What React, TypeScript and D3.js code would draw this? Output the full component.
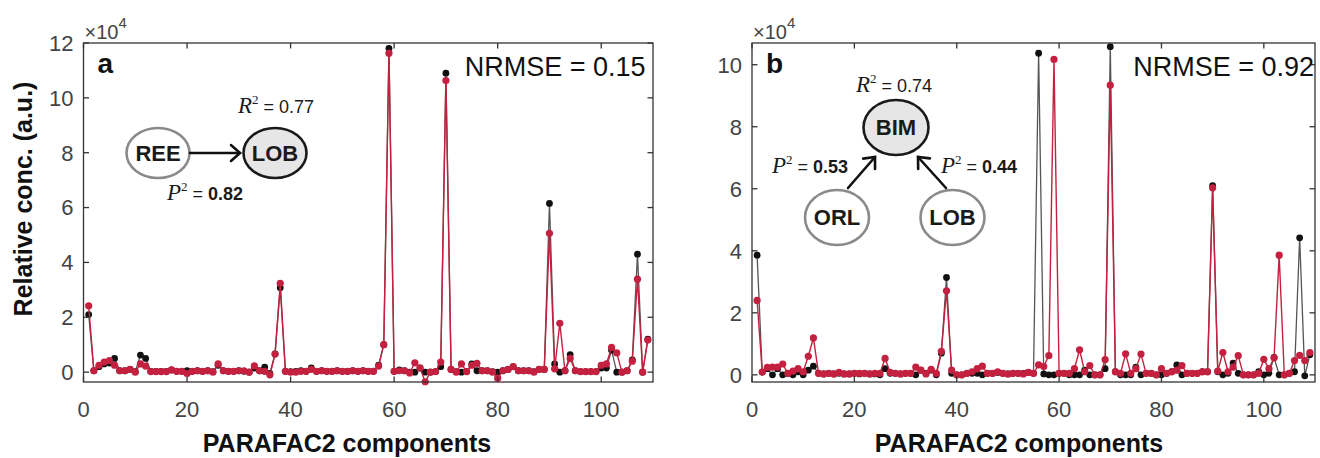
import React from "react";
import * as d3 from "d3";

// values in units of 1e4, components 1..109
const measuredA = [
  2.1, 0.05, 0.2, 0.3, 0.33, 0.5, 0.05, 0.05, 0.1, 0.02,
  0.62, 0.5, 0.03, 0.03, 0.03, 0.03, 0.08, 0.03, 0.03, 0.05,
  0.03, 0.05, 0.03, 0.05, 0.02, 0.25, 0.05, 0.03, 0.03, 0.05,
  0.03, 0.0, 0.15, 0.05, 0.18, -0.05, 0.66, 3.08, 0.03, 0.02,
  0.03, 0.05, 0.03, 0.15, 0.03, 0.05, 0.03, 0.03, 0.05, 0.03,
  0.03, 0.05, 0.03, 0.05, 0.03, 0.03, 0.25, 1.0, 11.8, 0.03,
  0.08, 0.05, 0.0, 0.0, 0.15, 0.0, 0.0, 0.02, 0.2, 10.9,
  0.1, 0.02, 0.0, 0.02, 0.3, 0.05, 0.05, 0.05, 0.02, 0.0,
  0.05, 0.1, 0.2, 0.05, 0.05, 0.05, 0.02, 0.1, 0.1, 6.15,
  0.3, 0.0, 0.05, 0.64, 0.05, 0.02, 0.02, 0.02, 0.02, 0.15,
  0.15, 0.8, 0.0, 0.0, 0.05, 0.45, 4.3, 0.0, 1.2,
];
const predictedA = [
  2.42, 0.05, 0.25, 0.37, 0.42, 0.25, 0.05, 0.05, 0.1, 0.0,
  0.3, 0.22, 0.02, 0.02, 0.02, 0.02, 0.08, 0.03, 0.03, -0.05,
  0.03, 0.05, 0.03, 0.05, 0.0, 0.3, 0.05, 0.03, 0.03, 0.05,
  0.05, 0.0, 0.23, 0.05, 0.03, -0.1, 0.66, 3.24, 0.03, 0.0,
  0.0, 0.03, 0.03, 0.1, 0.03, 0.05, 0.03, 0.03, 0.05, 0.03,
  0.03, 0.05, 0.03, 0.05, 0.03, 0.03, 0.22, 1.0, 11.63, 0.03,
  0.05, 0.05, -0.03, 0.34, 0.15, -0.35, 0.0, 0.02, 0.37, 10.63,
  0.1, 0.0, 0.3, 0.02, 0.25, 0.32, 0.05, 0.05, 0.0, -0.22,
  0.05, 0.1, 0.2, 0.05, 0.05, 0.05, 0.0, 0.1, 0.1, 5.06,
  0.12, 1.78, 0.05, 0.5, 0.05, 0.02, 0.02, 0.02, 0.02, 0.25,
  0.3, 0.9, 0.7, 0.0, 0.05, 0.4, 3.39, 0.0, 1.17,
];
const measuredB = [
  3.86, 0.09, 0.2, 0.0, 0.2, 0.0, 0.05, 0.0, 0.1, 0.0,
  0.15, 0.28, 0.05, 0.03, 0.05, 0.03, 0.05, 0.03, 0.03, 0.05,
  0.03, 0.05, 0.03, 0.03, 0.0, 0.2, 0.05, 0.05, 0.03, 0.05,
  0.05, 0.0, 0.15, 0.05, 0.15, 0.0, 0.7, 3.14, 0.05, 0.0,
  0.0, 0.05, 0.05, 0.05, 0.0, 0.05, 0.05, 0.08, 0.05, 0.03,
  0.05, 0.05, 0.05, 0.08, 0.05, 10.37, 0.03, 0.0, 0.0, 0.05,
  0.05, 0.0, 0.0, 0.0, 0.15, 0.0, 0.0, 0.0, 0.2, 10.58,
  0.1, 0.0, 0.0, 0.0, 0.25, 0.0, 0.05, 0.05, 0.0, 0.0,
  0.05, 0.1, 0.32, 0.0, 0.05, 0.05, 0.05, 0.1, 0.1, 6.1,
  0.1, 0.0, 0.05, 0.38, 0.05, 0.0, 0.0, 0.0, 0.1, 0.0,
  0.05, 0.56, 0.0, 0.0, 0.05, 0.1, 4.42, -0.03, 0.65,
];
const predictedB = [
  2.4, 0.09, 0.24, 0.25, 0.25, 0.35, 0.05, 0.12, 0.2, 0.1,
  0.6, 1.19, 0.05, 0.03, 0.05, 0.03, 0.08, 0.03, 0.03, 0.05,
  0.05, 0.05, 0.03, 0.05, 0.05, 0.53, 0.08, 0.05, 0.03, 0.05,
  0.05, 0.25, 0.15, 0.03, 0.18, 0.05, 0.76, 2.71, 0.15, 0.0,
  0.0, 0.05, 0.1, 0.2, 0.28, 0.05, 0.05, 0.1, 0.05, 0.03,
  0.05, 0.05, 0.03, 0.08, 0.05, 0.32, 0.27, 0.62, 10.17, 0.05,
  0.05, 0.05, 0.2, 0.81, 0.1, 0.3, 0.0, 0.0, 0.49, 9.34,
  0.1, 0.05, 0.68, 0.05, 0.2, 0.67, 0.05, 0.05, 0.0, 0.2,
  0.05, 0.1, 0.15, 0.3, 0.05, 0.05, 0.05, 0.1, 0.1, 6.03,
  0.12, 0.72, 0.1, 0.25, 0.62, 0.0, 0.0, 0.0, 0.05, 0.5,
  0.2, 0.55, 3.86, 0.0, 0.05, 0.46, 0.63, 0.46, 0.72,
];

const xTicks = [0, 20, 40, 60, 80, 100];
const yTicksA = [0, 2, 4, 6, 8, 10, 12];
const yTicksB = [0, 2, 4, 6, 8, 10];

const RED = "#c4203f";
const AXIS = "#333";
const TICKTXT = "#444";
const SANS = "'Liberation Sans', Arial, Helvetica, sans-serif";
const SERIF = "'Liberation Serif', 'Times New Roman', serif";

type PanelProps = {
  left: number;
  right: number;
  top: number;
  bottom: number;
  yDomain: [number, number];
  yTicks: number[];
  measured: number[];
  predicted: number[];
  letter: string;
  nrmse: string;
  xLabelX: number;
  children?: React.ReactNode;
};

const Panel = ({left, right, top, bottom, yDomain, yTicks, measured, predicted, letter, nrmse, xLabelX, children}: PanelProps) => {
  const x = d3.scaleLinear().domain([0, 110]).range([left, right]);
  const y = d3.scaleLinear().domain(yDomain).range([bottom, top]);
  const line = d3.line<number>().x((d, i) => x(i + 1)).y((d) => y(d));
  const tl = 5.5;

  return (
    <g>
      {/* series: measured (black) under predicted (red) */}
      <path d={line(measured) || ""} fill="none" stroke="#555" strokeWidth={1.3} />
      {measured.map((d, i) => (
        <circle key={"m" + i} cx={x(i + 1)} cy={y(d)} r={3.4} fill="#111" />
      ))}
      <path d={line(predicted) || ""} fill="none" stroke={RED} strokeWidth={1.4} />
      {predicted.map((d, i) => (
        <circle key={"p" + i} cx={x(i + 1)} cy={y(d)} r={3.6} fill={RED} />
      ))}

      {/* box with mirrored ticks */}
      <rect x={left} y={top} width={right - left} height={bottom - top} fill="none" stroke={AXIS} strokeWidth={1.3} />
      {xTicks.map((t) => (
        <g key={"xt" + t}>
          <line x1={x(t)} x2={x(t)} y1={bottom} y2={bottom - tl} stroke={AXIS} strokeWidth={1.3} />
          <line x1={x(t)} x2={x(t)} y1={top} y2={top + tl} stroke={AXIS} strokeWidth={1.3} />
          <text x={x(t)} y={bottom + 35} textAnchor="middle" fontFamily={SANS} fontSize={22} fill={TICKTXT}>{t}</text>
        </g>
      ))}
      {yTicks.map((t) => (
        <g key={"yt" + t}>
          <line x1={left} x2={left + tl} y1={y(t)} y2={y(t)} stroke={AXIS} strokeWidth={1.3} />
          <line x1={right} x2={right - tl} y1={y(t)} y2={y(t)} stroke={AXIS} strokeWidth={1.3} />
          <text x={left - 10} y={y(t)} dy="0.36em" textAnchor="end" fontFamily={SANS} fontSize={22} fill={TICKTXT}>{t}</text>
        </g>
      ))}
      <text x={left + 1} y={39} fontFamily={SANS} fontSize={20} fill={TICKTXT}>
        ×10<tspan dy={-11} fontSize={15}>4</tspan>
      </text>

      <text x={left + 14} y={73} fontFamily={SANS} fontWeight="bold" fontSize={28} fill="#111">{letter}</text>
      <text x={left + 562} y={76} textAnchor="end" fontFamily={SANS} fontSize={27} fill="#111">{nrmse}</text>
      <text x={xLabelX} y={452} textAnchor="middle" fontFamily={SANS} fontWeight="bold" fontSize={25} fill="#111">PARAFAC2 components</text>
      {children}
    </g>
  );
};

const Node = ({cx, cy, rx, ry, label, target}: {cx: number; cy: number; rx: number; ry: number; label: string; target?: boolean}) => (
  <g>
    <ellipse cx={cx} cy={cy} rx={rx} ry={ry} fill={target ? "#e6e6e6" : "#fff"} stroke={target ? "#1a1a1a" : "#8a8a8a"} strokeWidth={2.6} />
    <text x={cx} y={cy} dy="0.36em" textAnchor="middle" fontFamily={SANS} fontWeight="bold" fontSize={22} fill="#1a1a1a">{label}</text>
  </g>
);

const Arrow = ({x1, y1, x2, y2}: {x1: number; y1: number; x2: number; y2: number}) => {
  const a = Math.atan2(y2 - y1, x2 - x1);
  const h = 12;
  const w = 0.72;
  const p1 = [x2 - h * Math.cos(a - w), y2 - h * Math.sin(a - w)];
  const p2 = [x2 - h * Math.cos(a + w), y2 - h * Math.sin(a + w)];
  return (
    <g stroke="#111" strokeWidth={2.6} fill="none" strokeLinecap="round">
      <line x1={x1} y1={y1} x2={x2} y2={y2} />
      <path d={`M${p1[0]},${p1[1]} L${x2},${y2} L${p2[0]},${p2[1]}`} />
    </g>
  );
};

const Stat = ({x, y, sym, value, bold}: {x: number; y: number; sym: string; value: string; bold?: boolean}) => (
  <text x={x} y={y} fill="#1a1a1a">
    <tspan fontFamily={SERIF} fontStyle="italic" fontSize={23}>{sym}</tspan>
    <tspan fontFamily={SERIF} fontSize={13} dy={-9}>2</tspan>
    <tspan fontFamily={SANS} fontSize={18} dy={9}> = </tspan>
    <tspan fontFamily={SANS} fontSize={18} fontWeight={bold ? "bold" : "normal"}>{value}</tspan>
  </text>
);

const App = () => {
  return (
    <svg width={1320} height={458} style={{position: "absolute", left: 0, top: 0, background: "#fff"}}>
      <text
        transform="translate(32,199) rotate(-90)"
        textAnchor="middle"
        fontFamily={SANS}
        fontWeight="bold"
        fontSize={25}
        fill="#111"
      >
        Relative conc. (a.u.)
      </text>

      <Panel
        left={83.5}
        right={653}
        top={43}
        bottom={382}
        yDomain={[-0.36, 12]}
        yTicks={yTicksA}
        measured={measuredA}
        predicted={predictedA}
        letter="a"
        nrmse="NRMSE = 0.15"
        xLabelX={347}
      >
        <Node cx={158} cy={153} rx={31.5} ry={25} label="REE" />
        <Node cx={275} cy={153} rx={31.5} ry={25} label="LOB" target />
        <Arrow x1={190} y1={153} x2={240} y2={153} />
        <Stat x={238} y={113} sym="R" value="0.77" />
        <Stat x={167} y={200} sym="P" value="0.82" bold />
      </Panel>

      <Panel
        left={752}
        right={1315}
        top={43}
        bottom={382}
        yDomain={[-0.23, 10.7]}
        yTicks={yTicksB}
        measured={measuredB}
        predicted={predictedB}
        letter="b"
        nrmse="NRMSE = 0.92"
        xLabelX={1019}
      >
        <Node cx={896} cy={127.5} rx={32.5} ry={27.5} label="BIM" target />
        <Node cx={837} cy={217.5} rx={32} ry={27.5} label="ORL" />
        <Node cx={952.5} cy={217.5} rx={32} ry={27.5} label="LOB" />
        <Arrow x1={848} y1={188} x2={875} y2={157} />
        <Arrow x1={946} y1={188} x2={918} y2={157} />
        <Stat x={856} y={92} sym="R" value="0.74" />
        <Stat x={772} y={173} sym="P" value="0.53" bold />
        <Stat x={941} y={173} sym="P" value="0.44" bold />
      </Panel>
    </svg>
  );
};

export default App;
